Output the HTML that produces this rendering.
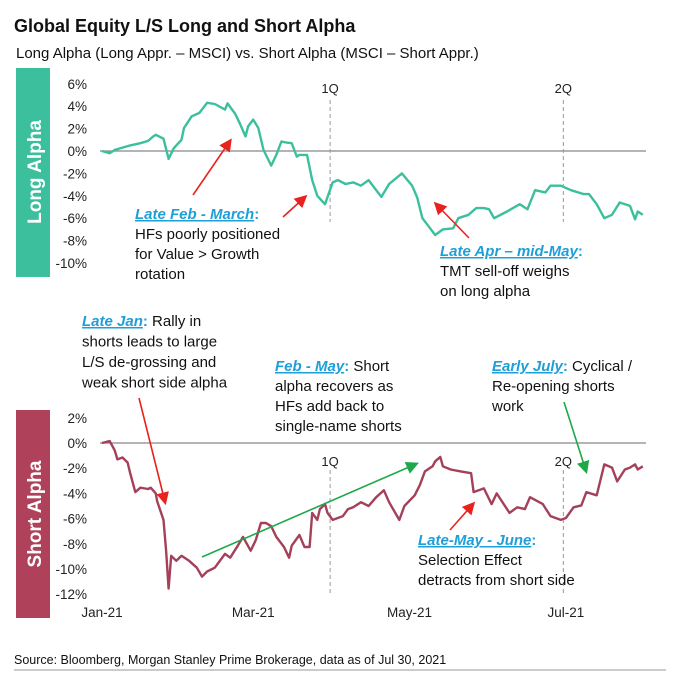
<!DOCTYPE html>
<html><head><meta charset="utf-8"><style>
body{margin:0;background:#fff;width:680px;height:675px;overflow:hidden;font-family:"Liberation Sans",Arial,sans-serif}
svg text{font-family:"Liberation Sans",Arial,sans-serif}
</style></head><body>
<svg id="c" width="680" height="675">
<defs>
<marker id="ar" markerWidth="8" markerHeight="8" refX="6" refY="4" orient="auto"><path d="M0,0 L8,4 L0,8 Z" fill="#e8231f"/></marker>
<marker id="ag" markerWidth="8" markerHeight="8" refX="6" refY="4" orient="auto"><path d="M0,0 L8,4 L0,8 Z" fill="#1fa84a"/></marker>
</defs>
<text x="14" y="32" font-size="18" font-weight="bold" fill="#111">Global Equity L/S Long and Short Alpha</text>
<text x="16" y="58" font-size="15" fill="#111">Long Alpha (Long Appr. – MSCI) vs. Short Alpha (MSCI – Short Appr.)</text>
<rect x="16" y="68" width="34" height="209" fill="#3cbf9c"/>
<text transform="translate(41,172) rotate(-90)" text-anchor="middle" font-size="19" font-weight="bold" fill="#fff">Long Alpha</text>
<rect x="16" y="410" width="34" height="208" fill="#b0415b"/>
<text transform="translate(41,514) rotate(-90)" text-anchor="middle" font-size="19" font-weight="bold" fill="#fff">Short Alpha</text>
<g id="axes"></g>
<g id="ann" font-size="15" fill="#111">
<text x="135" y="219"><tspan fill="#1e9fd8" font-weight="bold" font-style="italic" text-decoration="underline">Late Feb - March</tspan><tspan fill="#1e9fd8" font-weight="bold">:</tspan><tspan x="135" dy="20">HFs poorly positioned</tspan><tspan x="135" dy="20">for Value &gt; Growth</tspan><tspan x="135" dy="20">rotation</tspan></text>
<text x="440" y="256"><tspan fill="#1e9fd8" font-weight="bold" font-style="italic" text-decoration="underline">Late Apr – mid-May</tspan><tspan fill="#1e9fd8" font-weight="bold">:</tspan><tspan x="440" dy="20">TMT sell-off weighs</tspan><tspan x="440" dy="20">on long alpha</tspan></text>
<text x="82" y="326"><tspan fill="#1e9fd8" font-weight="bold" font-style="italic" text-decoration="underline">Late Jan</tspan><tspan fill="#1e9fd8" font-weight="bold">:</tspan> Rally in<tspan x="82" dy="20.5">shorts leads to large</tspan><tspan x="82" dy="20.5">L/S de-grossing and</tspan><tspan x="82" dy="20.5">weak short side alpha</tspan></text>
<text x="275" y="371"><tspan fill="#1e9fd8" font-weight="bold" font-style="italic" text-decoration="underline">Feb - May</tspan><tspan fill="#1e9fd8" font-weight="bold">:</tspan> Short<tspan x="275" dy="20">alpha recovers as</tspan><tspan x="275" dy="20">HFs add back to</tspan><tspan x="275" dy="20">single-name shorts</tspan></text>
<text x="492" y="371"><tspan fill="#1e9fd8" font-weight="bold" font-style="italic" text-decoration="underline">Early July</tspan><tspan fill="#1e9fd8" font-weight="bold">:</tspan> Cyclical /<tspan x="492" dy="20">Re-opening shorts</tspan><tspan x="492" dy="20">work</tspan></text>
<text x="418" y="545"><tspan fill="#1e9fd8" font-weight="bold" font-style="italic" text-decoration="underline">Late-May - June</tspan><tspan fill="#1e9fd8" font-weight="bold">:</tspan><tspan x="418" dy="20">Selection Effect</tspan><tspan x="418" dy="20">detracts from short side</tspan></text>
</g>
<g stroke-width="1.6">
<line x1="193" y1="195" x2="230" y2="141" stroke="#e8231f" marker-end="url(#ar)"/>
<line x1="283" y1="217" x2="305" y2="197" stroke="#e8231f" marker-end="url(#ar)"/>
<line x1="469" y1="238" x2="436" y2="204" stroke="#e8231f" marker-end="url(#ar)"/>
<line x1="139" y1="398" x2="165" y2="502" stroke="#e8231f" marker-end="url(#ar)"/>
<line x1="202" y1="557" x2="416" y2="464" stroke="#1fa84a" marker-end="url(#ag)"/>
<line x1="450" y1="530" x2="473" y2="504" stroke="#e8231f" marker-end="url(#ar)"/>
<line x1="564" y1="402" x2="586" y2="471" stroke="#1fa84a" marker-end="url(#ag)"/>
</g>
<text x="14" y="664" font-size="12.5" fill="#111">Source: Bloomberg, Morgan Stanley Prime Brokerage, data as of  Jul 30, 2021</text>
<line x1="14" y1="670" x2="666" y2="670" stroke="#999" stroke-width="1"/>
</svg>
<script>
const longDays=[0,3,5,8,11,15,18,20,21,24,26,28,31,32,35,38,41,44,48,49,52,54,56,57,59,61,63,66,68,70,72,74,76,77,80,82,84,87,90,92,95,98,101,104,107,109,112,117,121,123,125,128,130,133,137,139,143,146,149,151,153,158,163,166,169,173,175,179,183,188,190,193,196,199,202,206,208,209,211];
const longVals=[0,-0.2,0.1,0.3,0.5,0.7,0.9,1.3,1.45,1.1,-0.7,0.25,1.0,2.05,3.1,3.4,4.3,4.2,3.7,4.25,3.3,2.35,1.3,2.2,2.8,2.05,0.1,-1.3,-0.35,0.85,0.75,0.7,-0.5,-0.35,-0.35,-2.6,-4.0,-4.75,-2.8,-2.6,-2.95,-2.8,-3.1,-2.6,-3.5,-4.1,-2.95,-2.0,-3.1,-4.15,-6.0,-6.9,-7.5,-7.0,-6.9,-6.0,-5.7,-5.1,-5.1,-5.2,-6.0,-5.4,-4.75,-5.2,-3.5,-3.7,-3.1,-3.1,-3.5,-3.85,-3.85,-4.75,-6.0,-5.7,-4.6,-4.9,-6.1,-5.4,-5.7];
const shortDays=[0,3,5,6,8,10,11,13,15,18,19,21,21.5,23,24,25,26,27,29,31,34,37,39,41,44,48,50,53,55,58,60,62,64,66,68,71,73,74,77,79,81,82,84,85,87,88,90,94,96,98,101,104,107,110,112,116,118,122,124,126,129,130,132,133,136,140,144,145,149,152,154,159,162,165,167,172,175,179,181,184,187,189,193,196,199,201,204,206,208,209,211];
const shortVals=[0,0.15,-0.6,-1.3,-1.15,-1.55,-2.4,-3.9,-3.55,-3.65,-3.55,-4.0,-4.6,-5.5,-6.1,-8.55,-11.55,-8.95,-9.35,-8.95,-9.35,-9.9,-10.6,-10.2,-9.9,-8.8,-9.1,-8.15,-7.45,-8.55,-7.7,-6.35,-6.35,-6.6,-7.45,-8.25,-9.1,-8.15,-7.3,-8.25,-8.25,-5.55,-6.1,-5.25,-4.85,-5.55,-6.1,-5.8,-5.25,-5.1,-4.7,-5.0,-4.3,-3.75,-4.7,-6.1,-5.0,-4.15,-3.35,-2.25,-1.85,-1.45,-1.1,-1.85,-2.1,-2.25,-2.4,-3.9,-3.6,-4.85,-4.0,-5.55,-5.1,-5.25,-4.3,-4.85,-5.8,-6.1,-5.95,-5.1,-4.95,-3.9,-4.15,-1.7,-1.95,-3.05,-2.1,-1.95,-1.7,-2.1,-1.85];
const longTicks=[6,4,2,0,-2,-4,-6,-8,-10];
const shortTicks=[2,0,-2,-4,-6,-8,-10,-12];
const monthLabels=["Jan-21","Mar-21","May-21","Jul-21"];
const monthDays=[0,59,120,181];
const quarterLabels=["1Q","2Q"];
const quarterDays=[89,180];

const NS="http://www.w3.org/2000/svg";
const g=document.getElementById('axes');
function x(d){return 102+d*2.563;}
function yL(v){return 151-v*11.2;}
function yS(v){return 443-v*12.6;}
function mk(t,a){const e=document.createElementNS(NS,t);for(const k in a)e.setAttribute(k,a[k]);g.appendChild(e);return e;}

longTicks.forEach(v=>{const t=mk('text',{x:87,y:yL(v)+5,'text-anchor':'end','font-size':13.5,fill:'#222'});t.textContent=v+'%';

});
shortTicks.forEach(v=>{const t=mk('text',{x:87,y:yS(v)+5,'text-anchor':'end','font-size':13.5,fill:'#222'});t.textContent=v+'%';

});
const z1=mk('line',{x1:100,y1:yL(0),x2:646,y2:yL(0),stroke:'#888','stroke-width':1.2});


const z2=mk('line',{x1:100,y1:yS(0),x2:646,y2:yS(0),stroke:'#888','stroke-width':1.2});


quarterDays.forEach((d,i)=>{
 const l1=mk('line',{x1:x(d),y1:100,x2:x(d),y2:222,stroke:'#999','stroke-dasharray':'4,3'});
 
 
 const t1=mk('text',{x:x(d),y:93,'text-anchor':'middle','font-size':13,fill:'#222'});t1.textContent=quarterLabels[i];
 
 
 const l2=mk('line',{x1:x(d),y1:470,x2:x(d),y2:596,stroke:'#999','stroke-dasharray':'4,3'});
 
 
 const t2=mk('text',{x:x(d),y:466,'text-anchor':'middle','font-size':13,fill:'#222'});t2.textContent=quarterLabels[i];
 
 
});
monthDays.forEach((d,i)=>{const t=mk('text',{x:x(d),y:617,'text-anchor':'middle','font-size':13.5,fill:'#222'});t.textContent=monthLabels[i];

});
const p1=mk('path',{d:longDays.map((d,i)=>(i?'L':'M')+x(d).toFixed(1)+','+yL(longVals[i]).toFixed(1)).join(' '),fill:'none',stroke:'#3cbf9c','stroke-width':2.4,'stroke-linejoin':'round'});


const p2=mk('path',{d:shortDays.map((d,i)=>(i?'L':'M')+x(d).toFixed(1)+','+yS(shortVals[i]).toFixed(1)).join(' '),fill:'none',stroke:'#a4405a','stroke-width':2.4,'stroke-linejoin':'round'});


</script>
</body></html>
